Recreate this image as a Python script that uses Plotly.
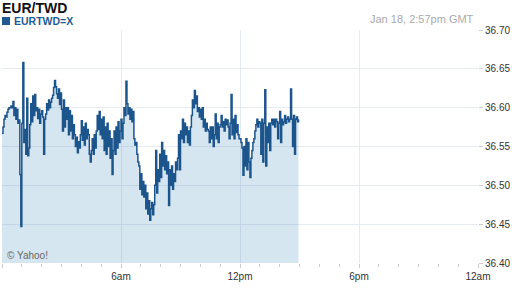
import plotly.graph_objects as go
import pandas as pd

# EUR/TWD intraday rate, one reading every 3 minutes starting at midnight (Jan 18)
rate_a = [36.567, 36.575, 36.585, 36.590, 36.588, 36.594, 36.598, 36.600, 36.600, 36.602,
          36.600, 36.608, 36.590, 36.600, 36.585, 36.598, 36.580, 36.584, 36.514, 36.447,
          36.580, 36.658, 36.555, 36.572, 36.540, 36.612, 36.538, 36.548, 36.578, 36.605,
          36.582, 36.615, 36.590, 36.617, 36.596, 36.600, 36.586, 36.598, 36.580, 36.592,
          36.596, 36.588, 36.540, 36.585, 36.592, 36.605, 36.597, 36.610, 36.600, 36.607,
          36.612, 36.616, 36.626, 36.635, 36.627, 36.618, 36.612, 36.624, 36.604, 36.619,
          36.598, 36.570, 36.610, 36.575, 36.600, 36.585, 36.600, 36.565, 36.596, 36.570,
          36.590, 36.560, 36.578, 36.565, 36.550, 36.562, 36.542, 36.556]
rate_b = [36.548, 36.565, 36.583, 36.558, 36.575, 36.552, 36.580, 36.560, 36.572, 36.565,
          36.540, 36.530, 36.545, 36.560, 36.540, 36.565, 36.548, 36.570, 36.590, 36.572,
          36.595, 36.565, 36.585, 36.560, 36.588, 36.545, 36.575, 36.540, 36.580, 36.550,
          36.570, 36.535, 36.560, 36.514, 36.545, 36.570, 36.540, 36.575, 36.548, 36.582,
          36.555, 36.570, 36.585, 36.560, 36.580, 36.600, 36.590, 36.634, 36.605, 36.592,
          36.600, 36.585, 36.598, 36.582, 36.595, 36.560, 36.552, 36.555, 36.540, 36.530,
          36.525, 36.495, 36.515, 36.488, 36.505, 36.485, 36.500, 36.470, 36.490, 36.463,
          36.480, 36.455, 36.470, 36.478, 36.462]
rate_c = [36.475, 36.500, 36.545, 36.490, 36.520, 36.505, 36.540, 36.510, 36.555, 36.525,
          36.545, 36.520, 36.538, 36.515, 36.530, 36.474, 36.520, 36.500, 36.525, 36.495,
          36.515, 36.505, 36.530, 36.520, 36.535, 36.565, 36.520, 36.570, 36.560, 36.585,
          36.555, 36.580, 36.565, 36.575, 36.555, 36.570, 36.552, 36.575, 36.590, 36.610,
          36.600, 36.622, 36.605, 36.615, 36.595, 36.600, 36.588, 36.598, 36.585, 36.600,
          36.575, 36.585, 36.570, 36.580, 36.572, 36.570, 36.555, 36.575, 36.560, 36.575,
          36.550, 36.565, 36.592, 36.560, 36.580, 36.555, 36.575, 36.578, 36.590, 36.575,
          36.582, 36.570, 36.585, 36.578, 36.584]
rate_d = [36.575, 36.560, 36.580, 36.617, 36.565, 36.585, 36.560, 36.590, 36.568, 36.578,
          36.565, 36.560, 36.560, 36.555, 36.548, 36.513, 36.550, 36.525, 36.560, 36.520,
          36.555, 36.530, 36.510, 36.535, 36.545, 36.555, 36.560, 36.570, 36.578, 36.585,
          36.575, 36.582, 36.580, 36.540, 36.585, 36.530, 36.580, 36.623, 36.525, 36.575,
          36.555, 36.580, 36.545, 36.580, 36.585, 36.578, 36.585, 36.575, 36.585, 36.582,
          36.560, 36.580, 36.595, 36.555, 36.585, 36.578, 36.582, 36.590, 36.580, 36.585,
          36.588, 36.582, 36.585, 36.624, 36.585, 36.550, 36.590, 36.540, 36.585, 36.588,
          36.582, 36.585]
rate = rate_a + rate_b + rate_c + rate_d

times = pd.date_range("2013-01-18 00:00", periods=len(rate), freq="3min")

x_tickvals = ["2013-01-18 00:00", "2013-01-18 06:00", "2013-01-18 12:00",
              "2013-01-18 18:00", "2013-01-19 00:00"]
x_ticktext = ["", "6am", "12pm", "6pm", "12am"]
y_range = [36.40, 36.70]

FONT = "Liberation Sans, Arial, sans-serif"
LINE = "#1c548c"
GRID = "#e6eaf1"

fig = go.Figure()
fig.add_trace(go.Scatter(
    x=times, y=rate, mode="lines",
    line=dict(color=LINE, width=1.5, shape="hv"),
    fill="tozeroy", fillcolor="rgba(50,130,180,0.2)",
    hoverinfo="skip", showlegend=False,
))

fig.update_layout(
    width=512, height=288,
    margin=dict(l=2, r=34, t=30, b=25),
    paper_bgcolor="white", plot_bgcolor="white",
    font=dict(family=FONT, size=10, color="#333333"),
    xaxis=dict(
        range=[x_tickvals[0], x_tickvals[-1]],
        tickmode="array", tickvals=x_tickvals, ticktext=x_ticktext,
        showgrid=True, gridcolor=GRID, gridwidth=1,
        ticks="outside", ticklen=4, tickcolor="#cccccc",
        minor=dict(tick0="2013-01-18", dtick=3600000, ticks="outside",
                   ticklen=3, tickcolor="#cccccc", showgrid=False),
        showline=False, zeroline=False,
        tickfont=dict(size=10, color="#333333"),
    ),
    yaxis=dict(
        side="right", range=y_range,
        tick0=36.40, dtick=0.05, tickformat=".2f",
        showgrid=True, gridcolor=GRID, gridwidth=1,
        ticks="outside", ticklen=4, tickcolor="#cccccc",
        showline=False, zeroline=False,
        tickfont=dict(size=10, color="#333333"),
    ),
)

# legend-like square
fig.add_shape(type="rect", xref="paper", yref="paper",
              x0=0.0, x1=8 / 476, y0=(263 - 25) / 233, y1=(263 - 17) / 233,
              fillcolor="#1f5a92", line=dict(width=0))

fig.add_annotation(text="<b>EUR/TWD</b>", xref="paper", yref="paper",
                   x=-2 / 476, y=(263 - 8) / 233, xanchor="left", yanchor="middle",
                   showarrow=False, font=dict(size=14, color="#111111", family=FONT))
fig.add_annotation(text="<b>EURTWD=X</b>", xref="paper", yref="paper",
                   x=10 / 476, y=(263 - 21) / 233, xanchor="left", yanchor="middle",
                   showarrow=False, font=dict(size=10.5, color="#1f5a92", family=FONT))
fig.add_annotation(text="Jan 18, 2:57pm GMT", xref="paper", yref="paper",
                   x=(476 - 2) / 476, y=(263 - 19) / 233, xanchor="right", yanchor="middle",
                   showarrow=False, font=dict(size=11, color="#aaaaaa", family=FONT))
fig.add_annotation(text="© Yahoo!", xref="paper", yref="paper",
                   x=3 / 476, y=(263 - 255) / 233, xanchor="left", yanchor="middle",
                   showarrow=False, font=dict(size=10, color="#666666", family=FONT))

fig.write_html("out.html")
